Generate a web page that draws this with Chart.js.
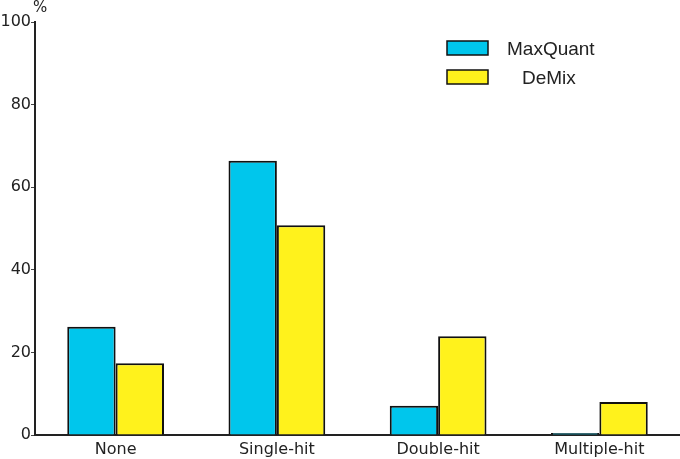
<!DOCTYPE html>
<html>
<head>
<meta charset="utf-8">
<script src="https://cdn.jsdelivr.net/npm/chart.js@4.4.0/dist/chart.umd.min.js"></script>
<style>
  html, body { margin: 0; padding: 0; background: #fff; }
  #wrap { width: 680px; height: 459px; }
</style>
</head>
<body>
<div id="wrap"><canvas id="hitChart" width="680" height="459"></canvas></div>
<script>
const categories = ['None', 'Single-hit', 'Double-hit', 'Multiple-hit'];
const maxQuant = [26.2, 66.4, 7.1, 0.5];
const deMix = [17.4, 50.8, 23.9, 8.0];
const yTicks = [0, 20, 40, 60, 80, 100];

const cyan = '#00c6ec';
const yellow = '#fff21c';

// legend + "%" label drawn by hand, matches the boxed layout of the original
const extras = {
    id: 'extras',
    afterDraw(chart) {
        const c = chart.ctx;
        c.save();
        c.fillStyle = '#222';
        c.font = '15px "DejaVu Sans"';
        c.textBaseline = 'middle';
        c.textAlign = 'left';
        c.fillText('%', 33, 8);

        const items = [
            { label: 'MaxQuant', color: cyan, y: 41, tx: 507 },
            { label: 'DeMix', color: yellow, y: 70, tx: 522 }
        ];
        c.font = '19px "Liberation Sans"';
        items.forEach(it => {
            c.fillStyle = it.color;
            c.fillRect(447, it.y, 41, 14);
            c.strokeStyle = '#111';
            c.lineWidth = 1.5;
            c.strokeRect(447, it.y, 41, 14);
            c.fillStyle = '#222';
            c.fillText(it.label, it.tx, it.y + 9);
        });
        c.restore();
    }
};

const ctx = document.getElementById('hitChart').getContext('2d');
const hitChart = new Chart(ctx, {
    type: 'bar',
    data: {
        labels: categories,
        datasets: [{
            label: 'MaxQuant',
            data: maxQuant,
            backgroundColor: cyan,
            borderColor: '#111',
            borderWidth: 2,
            categoryPercentage: 0.6,
            barPercentage: 1.0
        }, {
            label: 'DeMix',
            data: deMix,
            backgroundColor: yellow,
            borderColor: '#111',
            borderWidth: 2,
            categoryPercentage: 0.6,
            barPercentage: 1.0
        }]
    },
    options: {
        responsive: false,
        animation: false,
        layout: { padding: { top: 22, right: 0, left: 0, bottom: 0 } },
        plugins: {
            legend: { display: false },
            tooltip: { enabled: false }
        },
        scales: {
            x: {
                grid: { display: false, drawTicks: false },
                border: { display: true, color: '#222', width: 2 },
                ticks: {
                    color: '#222',
                    font: { family: 'DejaVu Sans', size: 16 },
                    padding: 5
                },
                afterFit(scale) { scale.height = 24; }
            },
            y: {
                min: 0,
                max: 100,
                afterBuildTicks(scale) {
                    scale.ticks = yTicks.map(v => ({ value: v }));
                },
                grid: {
                    display: true,
                    drawOnChartArea: false,
                    drawTicks: true,
                    tickLength: 4,
                    color: '#444'
                },
                border: { display: true, color: '#222', width: 2 },
                ticks: {
                    color: '#222',
                    font: { family: 'DejaVu Sans', size: 16 },
                    padding: 0
                },
                afterFit(scale) { scale.width = 35; }
            }
        }
    },
    plugins: [extras]
});
</script>
</body>
</html>
